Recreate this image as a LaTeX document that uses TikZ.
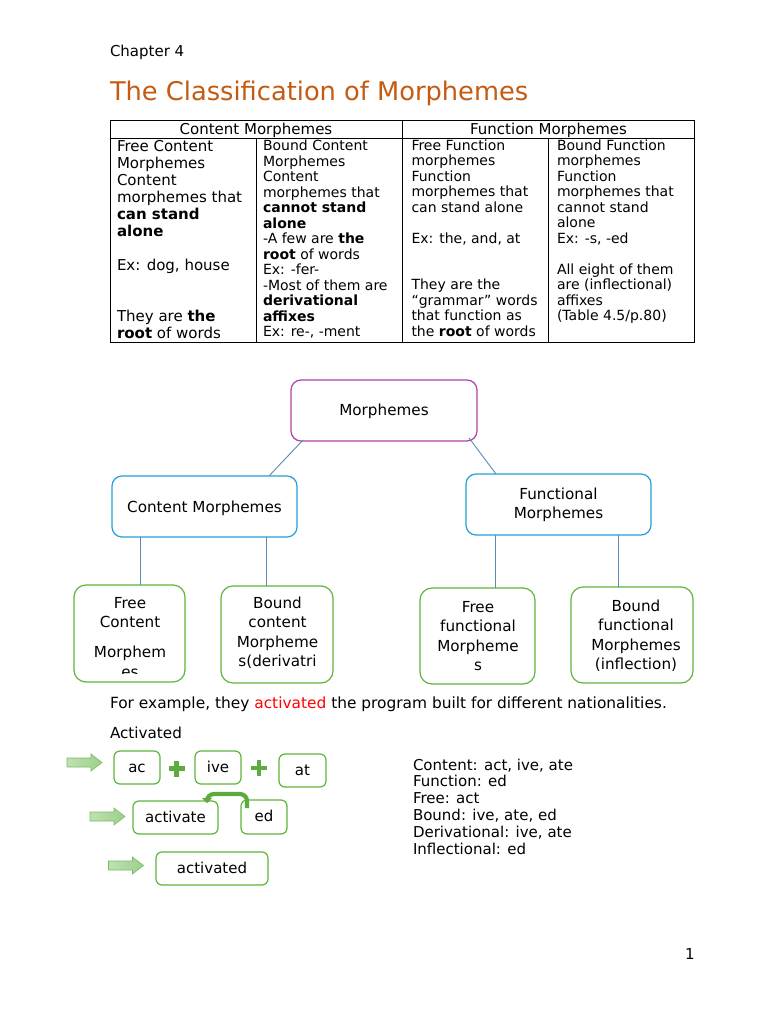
\documentclass[tikz,border=0pt]{standalone}
\usepackage{fontspec}
\setmainfont{DejaVu Sans}
\usetikzlibrary{calc,arrows.meta}
\definecolor{titleor}{HTML}{C55A11}
\definecolor{magb}{HTML}{B23FAA}
\definecolor{blueb}{HTML}{23A0DA}
\definecolor{greenb}{HTML}{5DB53A}
\definecolor{conn}{HTML}{5A8AB5}
\definecolor{arrfill}{HTML}{9CD08A}
\definecolor{arrline}{HTML}{78BD62}
\definecolor{plusg}{HTML}{5DAA3D}
\newcommand{\tline}[1]{\hbox{#1}}
\newcommand{\ctline}[1]{\hbox to 0pt{\hss#1\hss}}
\newcommand{\fs}[2]{\fontsize{#1}{#2}\selectfont}
\newcommand{\garrow}[2]{\shade[bigarrow] (#1,#2-4.5) -- ++(24,0) -- ++(0,-4) -- ++(11,8.5) -- ++(-11,8.5) -- ++(0,-4) -- ++(-24,0) -- cycle;}
\begin{document}
\begin{tikzpicture}[x=1pt,y=-1pt,
  every node/.style={inner sep=0pt, outer sep=0pt},
  rootbox/.style={draw=magb, line width=1.2pt, rounded corners=10pt, font=\fs{15.2}{19}, align=center},
  midbox/.style={draw=blueb, line width=1.2pt, rounded corners=10pt, font=\fs{15.2}{19}, align=center},
  leafbox/.style={draw=greenb, line width=1.2pt, rounded corners=12pt},
  wordbox/.style={draw=greenb, line width=1.2pt, rounded corners=6pt, text height=12pt, text depth=3pt, font=\fs{15}{18}},
  link/.style={draw=conn, line width=0.9pt},
  tabline/.style={draw=black, line width=0.9pt},
  bigarrow/.style={left color=arrfill!65!white, right color=arrfill, draw=arrline, line width=0.6pt},
  curvarrow/.style={draw=plusg, line width=4.2pt, rounded corners=7pt, -{Triangle[length=5pt, width=10pt]}},
]
\useasboundingbox (0,0) rectangle (768,1024);
\fill[white] (0,0) rectangle (768,1024);

% heading
\node[anchor=base west, font=\fs{15}{18}] (chap) at (110,57) {Chapter 4};
\node[anchor=base west, font=\fs{25.7}{30}, text=titleor] (title) at (110,101) {The Classification of Morphemes};

% table
\draw[tabline] (110,120) rectangle (694.5,342);
\draw[tabline] (110,138.5) -- (694.5,138.5);
\draw[tabline] (256,138.5) -- (256,342);
\draw[tabline] (402,120) -- (402,342);
\draw[tabline] (548.5,138.5) -- (548.5,342);
\node[anchor=base, font=\fs{15}{18}] (h1) at (256,135) {Content Morphemes};
\node[anchor=base, font=\fs{15}{18}] (h2) at (548.5,135) {Function Morphemes};
\node[anchor=base west] (c1) at (117,152) {\fs{15}{17}\vtop{%
  \tline{Free Content}\tline{Morphemes}\tline{Content}\tline{morphemes that}%
  \tline{\textbf{can stand}}\tline{\textbf{alone}}\tline{}\tline{Ex: dog, house}%
  \tline{}\tline{}\tline{They are \textbf{the}}\tline{\textbf{root} of words}}};
\node[anchor=base west] (c2) at (263,150.7) {\fs{14}{15.5}\vtop{%
  \tline{Bound Content}\tline{Morphemes}\tline{Content}\tline{morphemes that}%
  \tline{\textbf{cannot stand}}\tline{\textbf{alone}}\tline{-A few are \textbf{the}}%
  \tline{\textbf{root} of words}\tline{Ex: -fer-}\tline{-Most of them are}%
  \tline{\textbf{derivational}}\tline{\textbf{affixes}}\tline{Ex: re-, -ment}}};
\node[anchor=base west] (c3) at (411.5,150.5) {\fs{14}{15.5}\vtop{%
  \tline{Free Function}\tline{morphemes}\tline{Function}\tline{morphemes that}%
  \tline{can stand alone}\tline{}\tline{Ex: the, and, at}\tline{}\tline{}%
  \tline{They are the}\tline{“grammar” words}\tline{that function as}%
  \tline{the \textbf{root} of words}}};
\node[anchor=base west] (c4) at (557,150.5) {\fs{14}{15.5}\vtop{%
  \tline{Bound Function}\tline{morphemes}\tline{Function}\tline{morphemes that}%
  \tline{cannot stand}\tline{alone}\tline{Ex: -s, -ed}\tline{}%
  \tline{All eight of them}\tline{are (inflectional)}\tline{affixes}%
  \tline{(Table 4.5/p.80)}}};

% tree
\node[rootbox, minimum width=186pt, minimum height=61pt, text height=12pt, text depth=3pt] (root) at (384,410.5) {Morphemes};
\node[midbox, minimum width=185pt, minimum height=61pt, text height=13pt, text depth=2pt] (content) at (204.5,506.5) {Content Morphemes};
\node[midbox, minimum width=185pt, minimum height=61pt] (func) at (558.5,504.5) {Functional\\Morphemes};
\node[leafbox, minimum width=111pt, minimum height=97pt] (fc) at (129.5,633.5) {};
\node[leafbox, minimum width=112pt, minimum height=97pt] (bc) at (277,634.5) {};
\node[leafbox, minimum width=115pt, minimum height=96pt] (ff) at (477.5,636) {};
\node[leafbox, minimum width=122pt, minimum height=96pt] (bf) at (632,635) {};
\begin{scope}
  \clip (fc.north west) rectangle ($(fc.south east)+(0,-8.5)$);
  \node[anchor=base] (fct) at (130,608) {\fs{15.2}{19.5}\vtop{\ctline{Free}\ctline{Content}\vskip 10.5pt\ctline{Morphem}\ctline{es}}};
\end{scope}
\node[anchor=base] (bct) at (277.5,608) {\fs{15.2}{19.5}\vtop{\ctline{Bound}\ctline{content}\ctline{Morpheme}\ctline{s(derivatri}}};
\node[anchor=base] (fft) at (478,612) {\fs{15.2}{19.5}\vtop{\ctline{Free}\ctline{functional}\ctline{Morpheme}\ctline{s}}};
\node[anchor=base] (bft) at (636,611) {\fs{15.2}{19.5}\vtop{\ctline{Bound}\ctline{functional}\ctline{Morphemes}\ctline{(inflection)}}};

\draw[link] ($(root.south west)+(12,-1)$) -- ($(content.north west)+(157,0)$);
\draw[link] ($(root.south east)+(-8,-3)$) -- ($(func.north west)+(30,0)$);
\draw[link] ($(content.south west)+(28,0)$) -- ($(fc.north west)+(66,0)$);
\draw[link] ($(content.south west)+(154,0)$) -- ($(bc.north west)+(45,0)$);
\draw[link] ($(func.south west)+(29.5,0)$) -- ($(ff.north west)+(75.5,0)$);
\draw[link] ($(func.south west)+(152,0)$) -- ($(bf.north west)+(47,0)$);

% example
\node[anchor=base west, font=\fs{15.4}{18}] (ex) at (110,708) {For example, they \textcolor{red}{activated} the program built for different nationalities.};
\node[anchor=base west, font=\fs{15.2}{18}] (actw) at (110,738) {Activated};

\node[wordbox, minimum width=46pt, minimum height=33pt] (ac) at (137,767.5) {ac};
\node[wordbox, minimum width=46pt, minimum height=33pt] (ive) at (218,767.5) {ive};
\node[wordbox, minimum width=47pt, minimum height=33pt] (at) at (302.5,770.5) {at};
\node[wordbox, minimum width=85pt, minimum height=33pt] (act) at (175.5,817.5) {activate};
\node[wordbox, minimum width=46pt, minimum height=34pt] (ed) at (264,817) {ed};
\node[wordbox, minimum width=112pt, minimum height=33pt] (actd) at (212,868.5) {activated};

\coordinate (p1) at ($(ac.east)!0.5!(ive.west)+(-1,1)$);
\coordinate (p2) at ($(ive.east)!0.5!(at.west)+(-1,-1)$);
\foreach \p in {p1,p2}{
  \fill[plusg] ($(\p)+(-8,-2.4)$) rectangle ($(\p)+(8,2.4)$);
  \fill[plusg] ($(\p)+(-2.4,-8)$) rectangle ($(\p)+(2.4,8)$);
}
\garrow{67}{762.5}
\garrow{90}{816.5}
\garrow{108.5}{865.5}

\draw[curvarrow] ($(ed.north west)+(6,8)$) |- ($(act.north east)+(-11,-7)$) -- ($(act.north east)+(-11,2)$);

\node[anchor=base west] (list) at (413,770) {\fs{15}{16.8}\vtop{%
  \tline{Content: act, ive, ate}\tline{Function: ed}\tline{Free: act}%
  \tline{Bound: ive, ate, ed}\tline{Derivational: ive, ate}\tline{Inflectional: ed}}};

\node[anchor=base west, font=\fs{15}{18}] (pnum) at (685,959) {1};
\end{tikzpicture}
\end{document}
